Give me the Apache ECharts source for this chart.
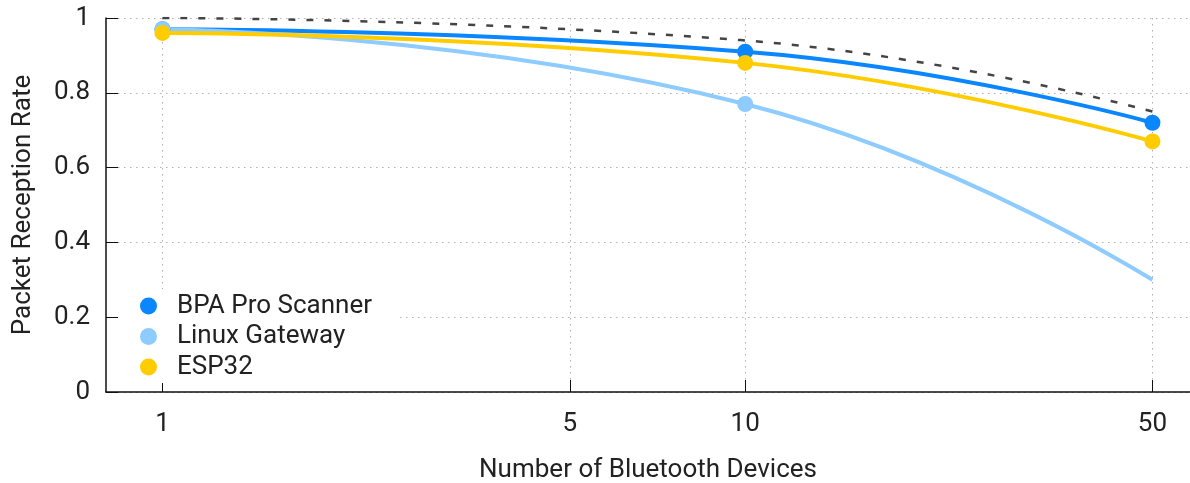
<!DOCTYPE html>
<html>
<head>
<meta charset="utf-8">
<script src="https://cdn.jsdelivr.net/npm/echarts@6/dist/echarts.min.js"></script>
<style>
    html, body { margin: 0; padding: 0; background: #fff; }
    #chart { width: 1190px; height: 483px; }
</style>
</head>
<body>
<div id="chart"></div>
<script>
// values
const deviceCounts = [1, 10, 50];
const bpaPro = [0.97, 0.91, 0.72];
const linuxGateway = [0.97, 0.77, 0.30];
const esp32 = [0.96, 0.88, 0.67];
const idealRate = [1.0, 0.94, 0.75];
const xTickValues = [1, 5, 10, 50];

const seriesNames = ["BPA Pro Scanner", "Linux Gateway", "ESP32"];
const colors = ["#0a86ff", "#8ecbff", "#ffcc00"];

const font = "Roboto";
const textColor = "#222";
const fontSize = 26;

const pairs = (ys) => deviceCounts.map((x, i) => [x, ys[i]]);

const makeSeries = (name, ys, color, hideLast) => ({
    name: name,
    type: "line",
    smooth: 0.5,
    symbol: "circle",
    symbolSize: 16,
    lineStyle: { width: 4, color: color },
    itemStyle: { color: color },
    data: pairs(ys).map((p, i) =>
        hideLast && i === ys.length - 1 ? { value: p, symbol: "none" } : p
    ),
});

const chart = echarts.init(document.getElementById("chart"));
const option = {
    animation: false,
    textStyle: { fontFamily: font, color: textColor },
    grid: { left: 106, right: 0, top: 18, bottom: 91, outerBoundsMode: "none" },
    legend: {
        data: seriesNames,
        orient: "vertical",
        left: 118,
        top: 289,
        padding: [4, 24, 3, 22],
        backgroundColor: "#fff",
        icon: "circle",
        itemWidth: 17,
        itemHeight: 17,
        itemGap: 4.5,
        textStyle: { fontFamily: font, fontSize: fontSize, color: textColor, padding: [0, 0, 0, 15] },
        z: 10,
    },
    xAxis: {
        type: "log",
        logBase: 10,
        min: 0.8,
        max: 58,
        name: "Number of Bluetooth Devices",
        nameLocation: "middle",
        nameGap: 65,
        nameTextStyle: { fontFamily: font, fontSize: fontSize, color: textColor },
        axisLine: { lineStyle: { color: "#111", width: 1.5 } },
        axisTick: { inside: true, length: 12, lineStyle: { color: "#111" }, customValues: xTickValues },
        axisLabel: { fontSize: fontSize, color: textColor, margin: 19, customValues: xTickValues },
        splitLine: { show: true, lineStyle: { type: [1.5, 4.5], color: "#b0b0b0" } },
    },
    yAxis: {
        type: "value",
        min: 0,
        max: 1,
        interval: 0.2,
        name: "Packet Reception Rate",
        nameLocation: "middle",
        nameGap: 70,
        nameTextStyle: { fontFamily: font, fontSize: fontSize, color: textColor },
        axisLine: { show: true, lineStyle: { color: "#111", width: 1.5 } },
        axisTick: { show: true, inside: true, length: 12, lineStyle: { color: "#111" } },
        axisLabel: { fontSize: fontSize, color: textColor, margin: 16 },
        splitLine: { show: true, lineStyle: { type: [1.5, 4.5], color: "#b0b0b0" } },
    },
    series: [
        {
            name: "ideal",
            type: "line",
            smooth: 0.5,
            symbol: "none",
            lineStyle: { width: 2.5, color: "#444", type: [7, 11] },
            data: pairs(idealRate),
            z: 1,
        },
        makeSeries(seriesNames[0], bpaPro, colors[0], false),
        makeSeries(seriesNames[1], linuxGateway, colors[1], true),
        makeSeries(seriesNames[2], esp32, colors[2], false),
    ],
};
chart.setOption(option);
</script>
</body>
</html>
